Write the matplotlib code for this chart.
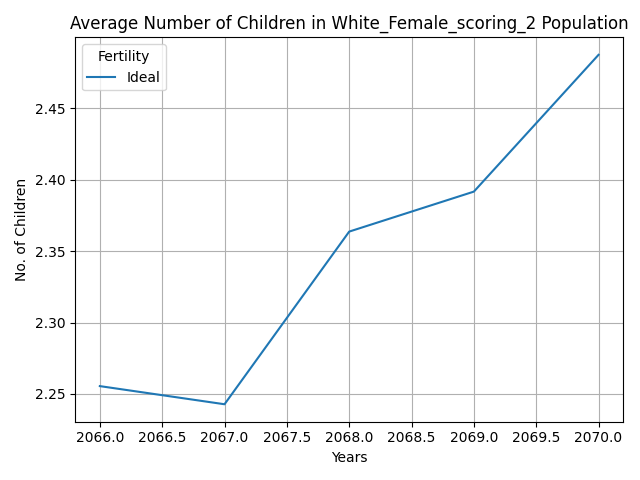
import matplotlib
matplotlib.use("Agg")
import matplotlib.pyplot as plt

years = [2066, 2067, 2068, 2069, 2070]
ideal = [2.2555, 2.2428, 2.3637, 2.3917, 2.4875]

fig, ax = plt.subplots(figsize=(6.4, 4.8), dpi=100)
ax.plot(years, ideal, label="Ideal")
ax.set_title("Average Number of Children in White_Female_scoring_2 Population")
ax.set_xlabel("Years")
ax.set_ylabel("No. of Children")
ax.grid(True)
ax.legend(title="Fertility", loc="upper left")
fig.tight_layout()
fig.savefig("out.png")
